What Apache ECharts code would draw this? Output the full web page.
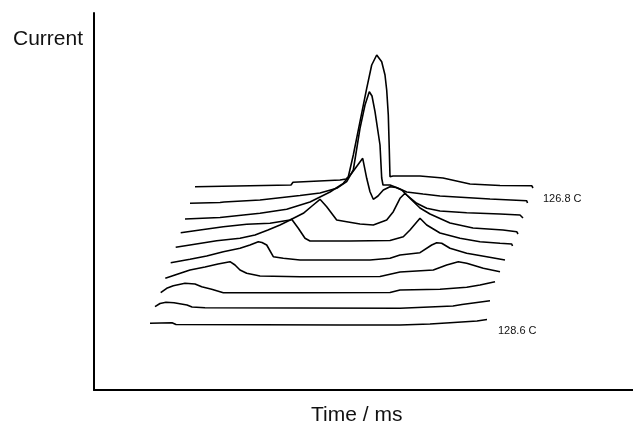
<!DOCTYPE html>
<html>
<head>
<meta charset="utf-8">
<script src="https://cdn.jsdelivr.net/npm/echarts@6/dist/echarts.min.js"></script>
<style>
  html, body { margin: 0; padding: 0; background: #fff; }
  #chart { width: 633px; height: 427px; }
</style>
</head>
<body>
<div id="chart"></div>
<script>
// Temperature of each trace, back (first) to front (last)
const temps = ['126.8', '127.0', '127.2', '127.4', '127.6', '127.8', '128.0', '128.2', '128.4', '128.6'];

// Each trace as [time, current] pairs, measured from the trace's own start
const trace126_8 = [[0,-0.2],[55,0.8],[96,1.5],[98,4.2],[145,6.5],[151,7.5],[153.3,9.8],[158.3,31.5],[165,64.8],[171.7,98.2],[176.7,121.5],[181.7,131.5],[186.7,124.8],[190,111.5],[191.7,96.5],[193.3,71.5],[194.3,36.5],[195,9.8],[198,10.5],[225,10.5],[248,8.5],[275,2.5],[305,1],[336.7,0.8],[338,-1.5]];
const trace127_0 = [[0,-1.6],[30,-0.8],[32,1.2],[34,-0.3],[70,1.7],[110,6.2],[130,8.7],[146.7,13.4],[156.7,20],[163.3,31.7],[170,73.4],[175,96.7],[179.3,110],[182,105.7],[185,90],[190,56.7],[191.7,23.7],[193,16.7],[200,16.7],[208.3,13.4],[216.7,9.7],[233,7.7],[250,5.7],[266.7,4.7],[300,2.7],[336.7,1],[337.5,-1.3]];
const trace127_2 = [[0,-2.1],[35,-0.6],[75,3.6],[101.7,7.6],[125,14.9],[145,24.9],[158.3,33.6],[166.7,43.6],[172,50.9],[177.7,58.6],[181.7,38.6],[185,25.2],[188.3,17.6],[193,20.9],[198.3,26.9],[205,30.2],[211,29.4],[216.7,26.9],[221.7,21.9],[231.7,13.6],[241.7,8.6],[255,5.9],[281.7,4.2],[315,2.9],[335,1.9],[338,-1.1]];
const trace127_4 = [[0.7,-0.6],[20,2.1],[43.3,5.4],[66.7,7.8],[90,8.8],[110,12.1],[123.3,18.8],[132,26.1],[140,32.8],[146.7,25.4],[156.7,12.1],[166.7,10.4],[180,8.1],[193.3,7.1],[206.7,12.1],[213.3,20.4],[220,33.8],[225,38.8],[231.7,32.1],[240,24.1],[250,18.1],[260,13.6],[270,9.1],[293,4.1],[323,2.1],[336.7,0.4],[338,-1.9]];
const trace127_6 = [[0.7,0],[15,2.3],[41.7,6.6],[65,9],[80,12.3],[93,17.3],[105,22.3],[116.7,28],[123.3,19],[130,9],[135,6.3],[175,6.3],[215,6.8],[228.3,10.6],[235,17.3],[245,29],[251.7,22.3],[265,14.3],[285,9],[305,5.6],[325,4],[336.7,3.3],[337.5,1.3]];
const trace127_8 = [[0.7,-0.2],[20,3.2],[36.7,6.5],[53.3,10.8],[70,14.2],[80,17.5],[88.3,20.8],[92,20],[96.7,17.5],[103.3,5.8],[113.3,4.2],[130,2.5],[200,2.5],[220,4.2],[230,7.5],[250,9.8],[261.7,17.5],[266.7,19.8],[271.7,19.2],[280,14.2],[296.7,9.2],[316.7,5.8],[335,2.5]];
const trace128_0 = [[0.3,-0.6],[10,2.7],[25,7.7],[40,10.7],[53,13.7],[65,16],[70,12.7],[75,7.7],[81.7,4.4],[95,1.7],[135,1],[215,1.2],[235,5.7],[268.3,7.7],[281.7,12.7],[293.3,16],[301.7,14.4],[318.3,9.4],[335,6]];
const trace128_2 = [[0.7,0.2],[6.7,4.6],[13.3,7.2],[25,9.6],[35,8.9],[41.7,6.2],[51.7,3.6],[63.3,0.2],[140,0.2],[230,0.4],[240,2.9],[280,3.6],[306.7,5.6],[320,7.9],[335,11.2]];
const trace128_4 = [[0,1.4],[5,4.6],[11,5.8],[19,5.4],[32,3.1],[37,1.1],[50,0.3],[145,0.1],[245,-0.2],[298,2.1],[307,3.6],[335,7.4]];
const trace128_6 = [[0,0],[22,0.6],[26,-1.2],[110,-1.5],[190,-1.7],[250,-1.7],[280,-0.7],[300,0.6],[327,2.3],[329,3.6],[337,3.8]];

const traces = [trace126_8, trace127_0, trace127_2, trace127_4, trace127_6,
                trace127_8, trace128_0, trace128_2, trace128_4, trace128_6];

// Waterfall layout: front trace origin and per-trace shift (axis units)
const ORIGIN_X = 56, ORIGIN_Y = 66.7;
const STEP_X = 5, STEP_Y = 15.2;

const FONT = '"Liberation Sans", Arial, sans-serif';
const n = traces.length;

const series = traces.map((trace, i) => {
  const depth = n - 1 - i;             // 0 = front trace
  const isEdge = i === 0 || i === n - 1;
  return {
    name: temps[i] + ' C',
    type: 'line',
    showSymbol: false,
    symbol: 'none',
    silent: true,
    animation: false,
    lineStyle: { color: '#000', width: 1.6 },
    data: trace.map(([t, c]) => [ORIGIN_X + STEP_X * depth + t, ORIGIN_Y + STEP_Y * depth + c]),
    endLabel: {
      show: isEdge,
      formatter: temps[i] + ' C',
      color: '#111',
      fontFamily: FONT,
      fontSize: 11,
      offset: i === 0 ? [2, 11] : [3, 11]
    }
  };
});

const chart = echarts.init(document.getElementById('chart'), null, { renderer: 'canvas' });
chart.setOption({
  backgroundColor: '#fff',
  animation: false,
  grid: { left: 94, right: 0, top: 13, bottom: 37 },
  xAxis: {
    type: 'value', min: 0, max: 539,
    axisLine: { show: true, onZero: false, lineStyle: { color: '#000', width: 2 } },
    axisTick: { show: false }, axisLabel: { show: false }, splitLine: { show: false }
  },
  yAxis: {
    type: 'value', min: 0, max: 377,
    axisLine: { show: true, onZero: false, lineStyle: { color: '#000', width: 2 } },
    axisTick: { show: false }, axisLabel: { show: false }, splitLine: { show: false }
  },
  graphic: [
    { type: 'text', left: 13, top: 29,
      style: { text: 'Current', font: '21px ' + FONT, fill: '#111' } },
    { type: 'text', left: 311, top: 405,
      style: { text: 'Time / ms', font: '21px ' + FONT, fill: '#111' } }
  ],
  series: series
});
</script>
</body>
</html>
